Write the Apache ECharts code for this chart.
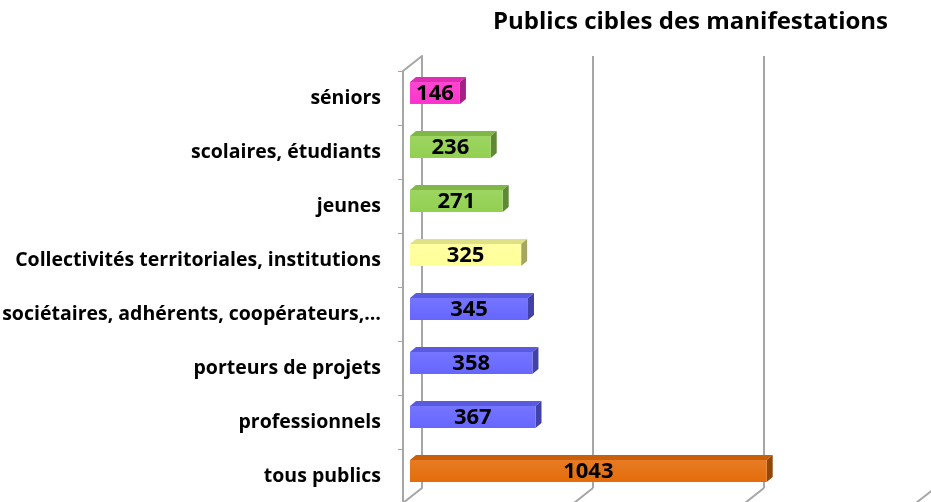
<!DOCTYPE html>
<html>
<head>
<meta charset="utf-8">
<script src="https://cdn.jsdelivr.net/npm/echarts@6/dist/echarts.min.js"></script>
<style>
  html, body { margin: 0; background: #fff; }
  #chart { width: 931px; height: 502px; }
</style>
</head>
<body>
<div id="chart"></div>
<script>
// data, bottom to top
const categories = [
  'tous publics',
  'professionnels',
  'porteurs de projets',
  'sociétaires, adhérents, coopérateurs,…',
  'Collectivités territoriales, institutions',
  'jeunes',
  'scolaires, étudiants',
  'séniors'
];
const values = [1043, 367, 358, 345, 325, 271, 236, 146];
const barColors = ['#e46c0a', '#6666ff', '#6666ff', '#6666ff', '#ffff99', '#92d050', '#92d050', '#ff33cc'];
const valueTicks = [0, 500, 1000, 1500];

const FONT = '"Open Sans"';
const wallColor = '#a6a6a6';

function shade(hex, amt) {
  let r = parseInt(hex.slice(1, 3), 16), g = parseInt(hex.slice(3, 5), 16), b = parseInt(hex.slice(5, 7), 16);
  const f = c => Math.round(amt >= 0 ? c + (255 - c) * amt : c * (1 + amt));
  return 'rgb(' + f(r) + ',' + f(g) + ',' + f(b) + ')';
}

function renderBar(params, api) {
  const v = api.value(0), c = api.value(1);
  const a = api.coord([0, c]), b = api.coord([v, c]);
  const h = 22, ox = 7, oy = -5, dx = 6, dy = -5;
  const x0 = a[0] + ox, x1 = b[0] + ox, yc = a[1] + oy;
  const top = yc - h / 2, bot = yc + h / 2;
  const col = barColors[params.dataIndex];
  return {
    type: 'group',
    children: [
      { type: 'polygon', shape: { points: [[x0, top], [x1, top], [x1 + dx, top + dy], [x0 + dx, top + dy]] },
        style: { fill: shade(col, -0.12) } },
      { type: 'polygon', shape: { points: [[x1, top], [x1 + dx, top + dy], [x1 + dx, bot + dy], [x1, bot]] },
        style: { fill: shade(col, -0.35) } },
      { type: 'rect', shape: { x: x0, y: top, width: x1 - x0, height: h },
        style: { fill: new echarts.graphic.LinearGradient(0, 0, 0, 1, [
          { offset: 0, color: shade(col, 0.1) },
          { offset: 1, color: col }
        ]) } },
      { type: 'text', style: { text: String(v), x: (x0 + x1) / 2, y: yc + 1, align: 'center', verticalAlign: 'middle',
        font: 'bold 22px ' + FONT, fill: '#000' } }
    ]
  };
}

function renderWalls(params, api) {
  const cs = params.coordSys;
  const yb = cs.y + cs.height, yt = cs.y;
  const ddx = 19, ddy = -15;
  const children = [];
  valueTicks.forEach(t => {
    const x = api.coord([t, 0])[0];
    children.push({ type: 'line', shape: { x1: x, y1: yb, x2: x + ddx, y2: yb + ddy },
      style: { stroke: wallColor, lineWidth: 2 } });
  });
  const x0 = api.coord([0, 0])[0];
  children.push({ type: 'line', shape: { x1: x0, y1: yt, x2: x0 + ddx, y2: yt + ddy },
    style: { stroke: wallColor, lineWidth: 2 } });
  return { type: 'group', children: children };
}

const chart = echarts.init(document.getElementById('chart'));
chart.setOption({
  animation: false,
  title: {
    text: 'Publics cibles des manifestations',
    left: 488, top: 5,
    textStyle: { fontFamily: FONT, fontWeight: 'bold', fontSize: 24, color: '#000' }
  },
  grid: [
    { left: 403, top: 71, right: 15, bottom: -1, containLabel: false, outerBoundsMode: 'none' },
    { left: 422, top: 56, right: -4, bottom: 14, containLabel: false, outerBoundsMode: 'none' }
  ],
  xAxis: [
    { gridIndex: 0, type: 'value', min: 0, max: 1500, interval: 500,
      axisLine: { show: false }, axisTick: { show: false }, axisLabel: { show: false }, splitLine: { show: false } },
    { gridIndex: 1, type: 'value', min: 0, max: 1500, interval: 500,
      axisLine: { show: false }, axisTick: { show: false }, axisLabel: { show: false },
      splitLine: { show: true, lineStyle: { color: wallColor, width: 2 } } }
  ],
  yAxis: [
    { gridIndex: 0, type: 'category', data: categories,
      axisLine: { show: true, lineStyle: { color: wallColor, width: 2 } },
      axisTick: { show: true, length: 5, lineStyle: { color: wallColor, width: 1 } },
      axisLabel: { margin: 22, fontFamily: FONT, fontWeight: 'bold', fontSize: 19.5, color: '#000', padding: [4, 0, 0, 0] } },
    { gridIndex: 1, type: 'category', data: categories,
      axisLine: { show: true, lineStyle: { color: wallColor, width: 2 } },
      axisTick: { show: false }, axisLabel: { show: false } }
  ],
  series: [
    { type: 'custom', xAxisIndex: 0, yAxisIndex: 0, z: 1, renderItem: renderWalls, data: [[0, 0]], silent: true },
    { type: 'custom', xAxisIndex: 0, yAxisIndex: 0, z: 5, renderItem: renderBar,
      encode: { x: 0, y: 1 }, data: values.map((v, i) => [v, i]) }
  ]
});
</script>
</body>
</html>
